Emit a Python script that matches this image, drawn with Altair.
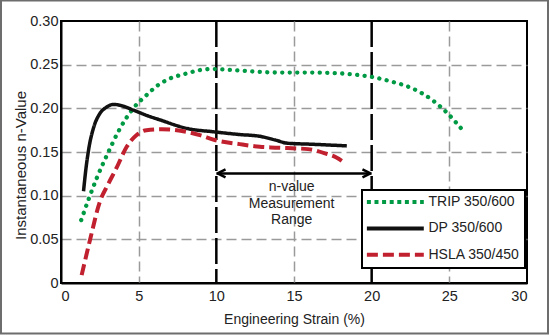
import altair as alt
import pandas as pd

# ---- data ----
series_names = ["TRIP 350/600", "DP 350/600", "HSLA 350/450"]

trip_x = [1.3, 1.8, 2.3, 3.0, 3.8, 4.65, 5.5, 6.2, 7.0, 8.1, 9.0, 9.8, 11.0, 12.5,
          14.0, 16.0, 18.0, 19.2, 20.0, 21.3, 22.6, 23.9, 24.9, 25.9]
trip_y = [0.072, 0.097, 0.120, 0.148, 0.177, 0.200, 0.215, 0.226, 0.234, 0.240, 0.244,
          0.245, 0.244, 0.242, 0.241, 0.241, 0.240, 0.238, 0.236, 0.2305, 0.223, 0.2095,
          0.194, 0.174]

dp_x = [1.45, 1.6, 1.8, 2.1, 2.5, 2.9, 3.4, 4.0, 4.65, 5.5, 6.4, 8.1, 9.9, 11.5, 12.8,
        13.8, 14.6, 16.0, 18.4]
dp_y = [0.105, 0.130, 0.155, 0.178, 0.194, 0.201, 0.2045, 0.2025, 0.198, 0.192, 0.1866,
        0.177, 0.173, 0.170, 0.168, 0.1637, 0.160, 0.159, 0.157]

hsla_x = [1.33, 1.87, 2.5, 3.0, 3.58, 4.23, 4.87, 5.5, 6.5, 8.1, 9.0, 9.9, 11.5, 12.8,
          13.8, 15.9, 17.0, 17.7, 18.3]
hsla_y = [0.009, 0.0495, 0.093, 0.112, 0.132, 0.156, 0.1694, 0.175, 0.176, 0.173, 0.169,
          0.1637, 0.159, 0.156, 0.155, 0.1533, 0.1485, 0.144, 0.137]

range_lines = [10, 20]          # measurement range limits (strain %)
arrow_y = 0.1255
range_label = "n-value\nMeasurement\nRange"
range_label_x = 14.85
range_label_y = 0.110

colors = ["#009a44", "#111111", "#c1202f"]
legend_dashes = [[4, 3.6], [1, 0], [11, 5]]

rows = []
for name, xs, ys in zip(series_names, [trip_x, dp_x, hsla_x], [trip_y, dp_y, hsla_y]):
    for i, (x, y) in enumerate(zip(xs, ys)):
        rows.append({"series": name, "strain": x, "n": y, "order": i})
df = pd.DataFrame(rows)

W, H = 466, 262
FONT = "Liberation Sans, Arial, Helvetica"

xscale = alt.Scale(domain=[0, 30], nice=False)
yscale = alt.Scale(domain=[0, 0.30], nice=False)

x_axis = alt.Axis(
    values=[0, 5, 10, 15, 20, 25, 30], title="Engineering Strain (%)",
    ticks=False, labelPadding=6, labelFontSize=14.5, labelFont=FONT, labelColor="#222",
    domainColor="black", domainWidth=2,
    grid=True, gridColor="#9a9a9a", gridDash=[10, 5], gridWidth=1.5,
    gridOpacity={"condition": {"test": "datum.value % 10 == 0", "value": 0}, "value": 1},
    titleFont=FONT, titleFontSize=14, titleFontWeight="normal", titleColor="#222",
    titleX=W / 2, titleY=40, titleBaseline="alphabetic", titleAlign="center",
)
y_axis = alt.Axis(
    values=[0, 0.05, 0.10, 0.15, 0.20, 0.25, 0.30], title="Instantaneous n-Value",
    labelExpr="datum.value == 0 ? '0' : format(datum.value, '.2f')",
    ticks=False, labelPadding=3, labelFontSize=14.5, labelFont=FONT, labelColor="#222",
    domainColor="black", domainWidth=2,
    grid=True, gridColor="#9a9a9a", gridDash=[10, 5], gridWidth=1.5,
    gridOpacity={"condition": {"test": "datum.value < 0.001 || datum.value > 0.299", "value": 0}, "value": 1},
    titleFont=FONT, titleFontSize=15, titleFontWeight="normal", titleColor="#222",
    titleX=-36, titleY=144, titleBaseline="alphabetic", titleAlign="center", titleAngle=-90,
)

legend = alt.Legend(
    title=None, orient="none", legendX=301, legendY=169,
    symbolType="M-1.5,0H10.5", symbolSize=90, symbolStrokeWidth=4,
    labelFont=FONT, labelFontSize=14, labelColor="#222", labelOffset=47.5,
    rowPadding=10.4,
)

color_enc = alt.Color("series:N", scale=alt.Scale(domain=series_names, range=colors), legend=legend)
dash_enc = alt.StrokeDash("series:N", scale=alt.Scale(domain=series_names, range=legend_dashes), legend=legend)

enc = dict(
    x=alt.X("strain:Q", scale=xscale, axis=x_axis),
    y=alt.Y("n:Q", scale=yscale, axis=y_axis),
    order="order:Q",
    color=color_enc,
)

trip = alt.Chart(df).transform_filter(alt.datum.series == series_names[0]).mark_line(
    interpolate="monotone", strokeWidth=4.3, strokeCap="round", strokeDash=[0.1, 7.4]
).encode(**enc)
dp = alt.Chart(df).transform_filter(alt.datum.series == series_names[1]).mark_line(
    interpolate="monotone", strokeWidth=3.5).encode(strokeDash=dash_enc, **enc)
hsla = alt.Chart(df).transform_filter(alt.datum.series == series_names[2]).mark_line(
    interpolate="monotone", strokeWidth=4).encode(strokeDash=dash_enc, **enc)

vlines = alt.Chart(pd.DataFrame({"x": range_lines})).mark_rule(
    color="black", strokeWidth=2.5, strokeDash=[26, 5]
).encode(x=alt.X("x:Q", scale=xscale))

arrow_df = pd.DataFrame({"x": [range_lines[0]], "x2": [range_lines[1]], "y": [arrow_y]})
arrow_line = alt.Chart(arrow_df).mark_rule(color="black", strokeWidth=2.5).encode(
    x=alt.X("x:Q", scale=xscale), x2="x2:Q", y=alt.Y("y:Q", scale=yscale))
head_l = alt.Chart(arrow_df).mark_point(
    shape="M0.3,0L2.3,-1M0.3,0L2.3,1", size=64, filled=False, color="black", strokeWidth=2.5, opacity=1
).encode(x=alt.X("x:Q", scale=xscale), y=alt.Y("y:Q", scale=yscale))
head_r = alt.Chart(arrow_df).mark_point(
    shape="M-0.3,0L-2.3,-1M-0.3,0L-2.3,1", size=64, filled=False, color="black", strokeWidth=2.5, opacity=1
).encode(x=alt.X("x2:Q", scale=xscale), y=alt.Y("y:Q", scale=yscale))

label = alt.Chart(pd.DataFrame({"x": [range_label_x], "y": [range_label_y], "t": [range_label]})).mark_text(
    font=FONT, fontSize=14, color="#222", lineBreak="\n", lineHeight=16.7, align="center", baseline="middle"
).encode(x=alt.X("x:Q", scale=xscale), y=alt.Y("y:Q", scale=yscale), text="t:N")

frame = alt.Chart(pd.DataFrame({"a": [0]})).mark_rect(
    fill=None, stroke="#6d6d6d", strokeWidth=2
).encode(x=alt.value(-60), x2=alt.value(487), y=alt.value(-20.5), y2=alt.value(312.5))

chart = alt.layer(frame, vlines, arrow_line, head_l, head_r, label, trip, dp, hsla).properties(
    width=W, height=H,
    autosize=alt.AutoSizeParams(type="none"),
    padding={"left": 61, "top": 21, "right": 23, "bottom": 53},
    background="white",
).configure_view(stroke="black", strokeWidth=2).configure_legend(
    strokeColor="black", fillColor="white", strokeWidth=2, padding=5
)

chart.save("out.html", embed_options={"renderer": "svg", "actions": False})
